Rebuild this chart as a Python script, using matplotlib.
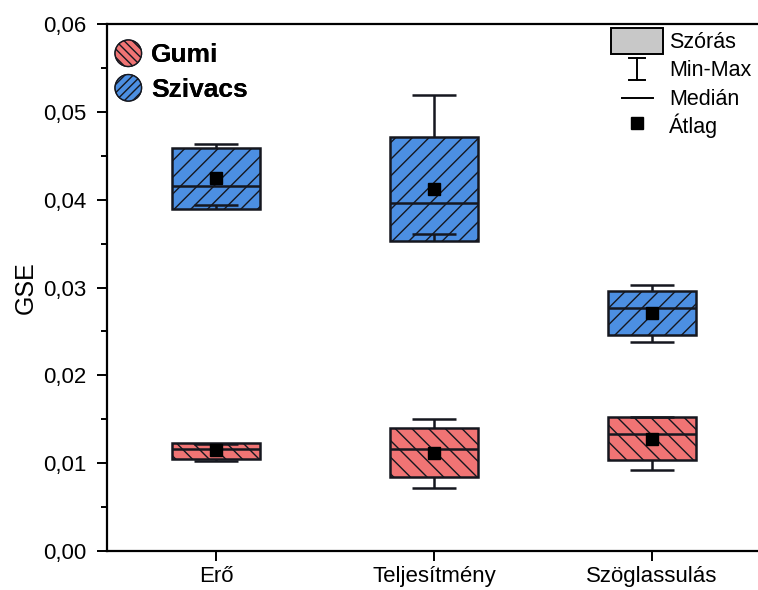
import matplotlib
matplotlib.use('Agg')
import matplotlib.pyplot as plt
import matplotlib.patches as mpatches
from matplotlib.lines import Line2D
from matplotlib.legend_handler import HandlerPatch, HandlerBase
from matplotlib.ticker import MultipleLocator, FuncFormatter

plt.rcParams['font.family'] = ['Liberation Sans', 'DejaVu Sans']
plt.rcParams['hatch.linewidth'] = 1.0

categories = ['Erő', 'Teljesítmény', 'Szöglassulás']
pos = [1, 2, 3]

# Gumi (red)
gumi_sd_low = [0.01044, 0.00846, 0.01036]
gumi_sd_high = [0.01226, 0.01404, 0.01529]
gumi_median = [0.01158, 0.01158, 0.01332]
gumi_mean = [0.01150, 0.01120, 0.01272]
gumi_min = [0.01030, 0.00720, 0.00919]
gumi_max = [0.01220, 0.01500, 0.01529]

# Szivacs (blue)
szivacs_sd_low = [0.03890, 0.03530, 0.02456]
szivacs_sd_high = [0.04590, 0.04710, 0.02960]
szivacs_median = [0.04156, 0.03960, 0.02763]
szivacs_mean = [0.04243, 0.04120, 0.02706]
szivacs_min = [0.03936, 0.03610, 0.02380]
szivacs_max = [0.04630, 0.05190, 0.03032]

red = '#F07474'
blue = '#4C8FE2'
edge = '#15171f'


class HandlerCircle(HandlerPatch):
    def create_artists(self, legend, orig_handle, xdescent, ydescent,
                       width, height, fontsize, trans):
        r = 0.56 * height
        c = (0.5 * width - xdescent, 0.5 * height - ydescent)
        p = mpatches.Circle(c, r)
        self.update_prop(p, orig_handle, legend)
        p.set_hatch(orig_handle.get_hatch())
        p.set_transform(trans)
        return [p]


class HandlerMinMax(HandlerBase):
    def create_artists(self, legend, orig_handle, xdescent, ydescent,
                       width, height, fontsize, trans):
        cx = 0.5 * width - xdescent
        y0 = 0.08 * height - ydescent
        y1 = 0.92 * height - ydescent
        cap = 0.15 * width
        out = []
        for xs, ys in [([cx, cx], [y0, y1]), ([cx - cap, cx + cap], [y0, y0]),
                       ([cx - cap, cx + cap], [y1, y1])]:
            ln = Line2D(xs, ys, color='black', lw=1.4)
            ln.set_transform(trans)
            out.append(ln)
        return out


class HandlerShortLine(HandlerBase):
    def create_artists(self, legend, orig_handle, xdescent, ydescent,
                       width, height, fontsize, trans):
        cy = 0.5 * height - ydescent
        ln = Line2D([0.2 * width - xdescent, 0.8 * width - xdescent], [cy, cy],
                    color='black', lw=1.4)
        ln.set_transform(trans)
        return [ln]


fig = plt.figure(figsize=(7.58, 5.90), dpi=100)
ax = fig.add_axes([0.1412, 0.0661, 0.8628, 0.8932])

w = 0.4
capw = 0.2


def draw_group(lo, hi, med, mean, mn, mx, color, hatch):
    heights = [h - l for h, l in zip(hi, lo)]
    ax.bar(pos, heights, bottom=lo, width=w, color=color, edgecolor=edge,
           hatch=hatch, linewidth=1.8, zorder=2)
    ax.hlines(med, [p - w / 2 for p in pos], [p + w / 2 for p in pos],
              color=edge, lw=1.8, zorder=3)
    ax.vlines(pos, hi, mx, color=edge, lw=1.8, zorder=3)
    ax.vlines(pos, lo, mn, color=edge, lw=1.8, zorder=3)
    ax.hlines(mx, [p - capw / 2 for p in pos], [p + capw / 2 for p in pos],
              color=edge, lw=1.8, zorder=3)
    ax.hlines(mn, [p - capw / 2 for p in pos], [p + capw / 2 for p in pos],
              color=edge, lw=1.8, zorder=3)
    ax.plot(pos, mean, 's', color='black', ms=9, zorder=4)


draw_group(gumi_sd_low, gumi_sd_high, gumi_median, gumi_mean, gumi_min, gumi_max, red, '\\\\')
draw_group(szivacs_sd_low, szivacs_sd_high, szivacs_median, szivacs_mean,
           szivacs_min, szivacs_max, blue, '//')

ax.set_xlim(0.5, 3.5)
ax.set_ylim(0, 0.06)
ax.set_xticks(pos)
ax.set_xticklabels(categories, fontsize=16)
ax.yaxis.set_major_locator(MultipleLocator(0.01))
ax.yaxis.set_minor_locator(MultipleLocator(0.005))
ax.yaxis.set_major_formatter(FuncFormatter(lambda v, p: f'{v:.2f}'.replace('.', ',')))
ax.tick_params(axis='y', which='major', length=7, width=1.4, labelsize=16, direction='out', pad=8)
ax.tick_params(axis='y', which='minor', length=4.5, width=1.4, direction='out')
ax.tick_params(axis='x', length=7, width=1.4, direction='out', pad=4)
ax.set_ylabel('GSE', fontsize=18, labelpad=4)
for s in ax.spines.values():
    s.set_linewidth(1.6)

# left legend
h_gumi = mpatches.Patch(facecolor=red, edgecolor=edge, hatch='\\\\\\\\', lw=1.0)
h_sziv = mpatches.Patch(facecolor=blue, edgecolor=edge, hatch='////', lw=1.0)
leg1 = ax.legend([h_gumi, h_sziv], ['Gumi', 'Szivacs'], loc='upper left',
                 bbox_to_anchor=(-0.026, 1.012), frameon=False,
                 prop={'size': 19, 'weight': 'bold'}, handlelength=1.1,
                 handleheight=1.0, handletextpad=0.3, labelspacing=0.33,
                 handler_map={mpatches.Patch: HandlerCircle()})
ax.add_artist(leg1)

# right legend
h_sd = mpatches.Patch(facecolor='#c8c8c8', edgecolor='black', lw=1.4)
h_mm = Line2D([], [])
h_med = Line2D([], [])
h_mean = Line2D([], [], marker='s', color='black', ls='none', ms=8)
fig.legend([h_sd, h_mm, h_med, h_mean], ['Szórás', 'Min-Max', 'Medián', 'Átlag'],
           loc='upper right', bbox_to_anchor=(1.003, 0.967), frameon=False,
           fontsize=15.5, handlelength=2.4, handleheight=1.45,
           handletextpad=0.3, labelspacing=0.13, borderaxespad=0,
           handler_map={h_mm: HandlerMinMax(), h_med: HandlerShortLine()})

fig.savefig('out.png', dpi=100)
